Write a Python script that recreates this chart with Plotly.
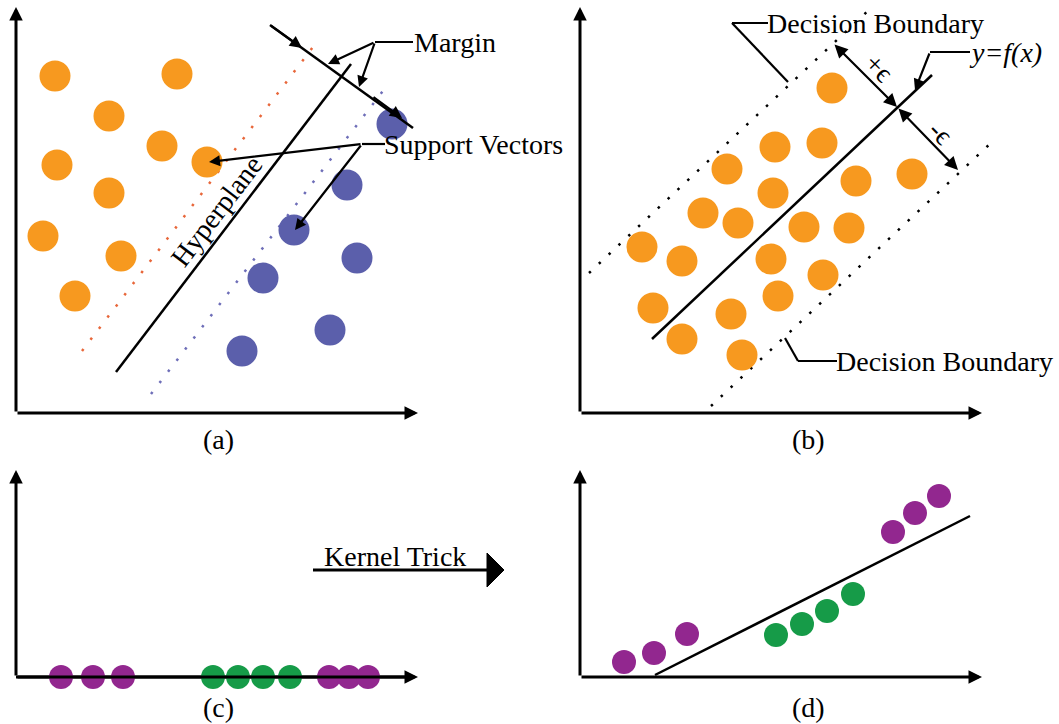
import plotly.graph_objects as go

W, H = 1059, 724
FONT = "Liberation Serif, Times New Roman, DejaVu Serif, serif"
FS = 28

# ---------------- data (pixel-space coordinates of the diagram) ----------------
# Panel (a): linear SVM classification
a_orange_x = [55, 177, 109, 162, 57, 207, 109, 43, 121, 75]
a_orange_y = [76, 74, 116, 146, 165, 162, 193, 236, 256, 296]
a_blue_x = [392, 347, 294, 357, 263, 330, 242]
a_blue_y = [124, 185, 230, 258, 278, 330, 351]
a_hyper_x = [116, 351]
a_hyper_y = [372, 64]
a_omargin_x = [82, 316]
a_omargin_y = [351, 43]
a_bmargin_x = [151, 386]
a_bmargin_y = [394, 87]

# Panel (b): support vector regression
b_x = [832, 775, 822, 727, 773, 856, 912, 703, 738, 804, 849, 642, 682, 771, 823, 653, 778, 731, 682, 742]
b_y = [88, 147, 143, 169, 193, 181, 174, 213, 223, 227, 228, 247, 261, 259, 275, 308, 296, 314, 339, 355]
b_fx_x = [652, 932]
b_fx_y = [339, 75]
b_upper_x = [589, 871]
b_upper_y = [273, 8]
b_lower_x = [711, 992]
b_lower_y = [406, 142]

# Panel (c): 1-D data
c_purple_x = [61, 93, 123, 329, 349, 368]
c_green_x = [213, 238, 263, 290]
c_base_y = 677

# Panel (d): mapped data
d_purple_x = [624, 654, 687, 893, 915, 939]
d_purple_y = [662, 653, 634, 532, 513, 496]
d_green_x = [776, 802, 827, 853]
d_green_y = [635, 624, 611, 594]
d_line_x = [655, 970]
d_line_y = [675, 516]

# axes: (origin x, origin y, x tip, y tip)
axes_frames = [(16, 413, 418, 7), (580, 413, 982, 7), (16, 677, 418, 470), (580, 677, 982, 470)]
panel_labels = ["(a)", "(b)", "(c)", "(d)"]
panel_label_x = [218, 808, 218, 808]
panel_label_y = [439, 439, 707, 707]

ORANGE = "#F7991F"
BLUE = "#5B5FAB"
PURPLE = "#92278F"
GREEN = "#169B48"

fig = go.Figure()

def line(x, y, color="black", width=2.5, dash=None):
    fig.add_trace(go.Scatter(x=x, y=y, mode="lines", hoverinfo="skip",
                             line=dict(color=color, width=width, dash=dash)))

def dots(x, y, color, size):
    fig.add_trace(go.Scatter(x=x, y=y, mode="markers", hoverinfo="skip",
                             marker=dict(color=color, size=size, line=dict(width=0))))

# panel (a)
line(a_omargin_x, a_omargin_y, color="#E8673A", width=2.5, dash="2.5px,11.5px")
line(a_bmargin_x, a_bmargin_y, color="#6E6EB8", width=2.5, dash="2.5px,11.5px")
line(a_hyper_x, a_hyper_y, width=2.5)
dots(a_orange_x, a_orange_y, ORANGE, 31)
dots(a_blue_x, a_blue_y, BLUE, 31)

# panel (b)
line(b_upper_x, b_upper_y, color="black", width=2.5, dash="2.5px,11px")
line(b_lower_x, b_lower_y, color="black", width=2.5, dash="2.5px,11px")
dots(b_x, b_y, ORANGE, 31)
line(b_fx_x, b_fx_y, width=2.5)

# panel (c)
line([axes_frames[2][0], axes_frames[2][2] - 8], [c_base_y, c_base_y], width=3)
dots(c_purple_x, [c_base_y] * len(c_purple_x), PURPLE, 24)
dots(c_green_x, [c_base_y] * len(c_green_x), GREEN, 24)

# panel (d)
line(d_line_x, d_line_y, width=2.5)
dots(d_purple_x, d_purple_y, PURPLE, 24)
dots(d_green_x, d_green_y, GREEN, 24)

annotations = []

def arrow(tail, head, width=2.5, head_style=2, size=1.0, side="end"):
    annotations.append(dict(x=head[0], y=head[1], ax=tail[0], ay=tail[1],
                            xref="x", yref="y", axref="x", ayref="y",
                            showarrow=True, arrowhead=head_style, arrowsize=size,
                            arrowwidth=width, arrowcolor="black", standoff=0,
                            startstandoff=0, arrowside=side, startarrowhead=head_style,
                            startarrowsize=size, text=""))

def text(x, y, s, xanchor="left", angle=0, italic=False, size=FS):
    annotations.append(dict(x=x, y=y, xref="x", yref="y", text=s, showarrow=False,
                            xanchor=xanchor, yanchor="middle", textangle=angle,
                            font=dict(family=FONT, size=size, color="black",
                                      style="italic" if italic else "normal")))

# axes with arrowheads
for (ox, oy, xt, yt) in axes_frames:
    arrow((ox, oy), (xt, oy), width=3, head_style=2, size=0.9)
    arrow((ox, oy), (ox, yt), width=3, head_style=2, size=0.9)

# panel labels
for lab, lx, ly in zip(panel_labels, panel_label_x, panel_label_y):
    text(lx, ly, lab, xanchor="center")

# ---- panel (a) annotations
line([270, 413], [25, 128], width=2.5)
arrow((270, 25), (302, 48), width=2.2, size=1.1)
arrow((372, 96), (402, 118), width=2.2, size=1.1)
line([375, 413], [42, 42], width=2.2)
arrow((375, 42), (328, 64), width=2.2, size=1.0)
arrow((375, 42), (359, 87), width=2.2, size=1.0)
text(412, 42, "Margin")
line([362, 385], [144, 144], width=2.2)
arrow((362, 144), (209, 162), width=2.2, size=1.0)
arrow((362, 144), (295, 230), width=2.2, size=1.0)
text(382, 144, "Support Vectors")
text(216, 211, "Hyperplane", xanchor="center", angle=-52.7)

# ---- panel (b) annotations
line([732, 768], [23, 23], width=2.2)
line([732, 788], [23, 82], width=2.2)
text(765, 23, "Decision Boundary")
line([930, 970], [52, 52], width=2.2)
arrow((930, 52), (915, 90), width=2.2, size=1.0)
text(967, 52, "y=f(x)", italic=True)
arrow((833, 43), (897, 107), width=2.2, size=1.2, side="end+start")
arrow((897, 107), (958, 170), width=2.2, size=1.2, side="end+start")
text(879, 67, "+ϵ", xanchor="center", angle=45, size=28)
text(941, 132, "-ϵ", xanchor="center", angle=45, size=28)
line([798, 837], [361, 361], width=2.2)
line([798, 785], [361, 338], width=2.2)
text(834, 361, "Decision Boundary")

# ---- kernel trick arrow
line([313, 489], [570, 570], width=3)
fig.add_trace(go.Scatter(x=[487, 504, 487, 487], y=[553, 570, 587, 553], mode="lines",
                         fill="toself", fillcolor="black", line=dict(color="black", width=1),
                         hoverinfo="skip"))
text(322, 556, "Kernel Trick")

fig.update_layout(
    width=W, height=H,
    margin=dict(l=0, r=0, t=0, b=0),
    paper_bgcolor="white", plot_bgcolor="white",
    showlegend=False,
    xaxis=dict(range=[0, W], visible=False, fixedrange=True),
    yaxis=dict(range=[H, 0], visible=False, fixedrange=True),
    annotations=annotations,
)

fig.write_html("out.html", config={"displayModeBar": False},
               post_script="document.body.style.margin='0';document.body.style.overflow='hidden';")
